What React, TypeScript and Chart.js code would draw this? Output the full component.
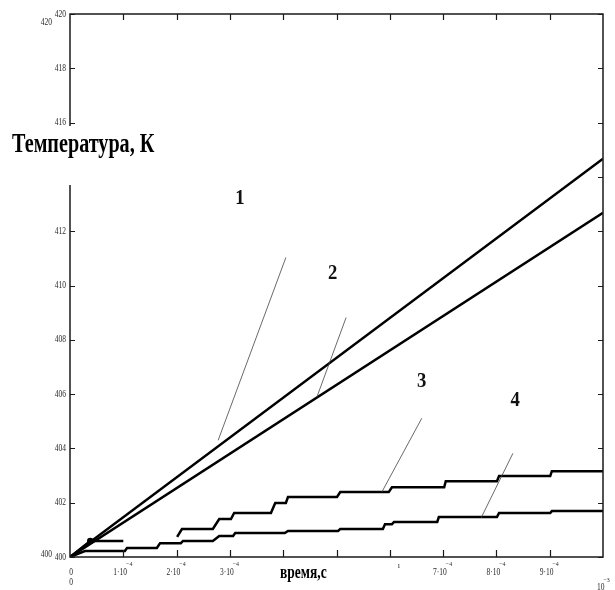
import React, { useEffect, useRef } from "react";
import { Chart, registerables } from "chart.js";

Chart.register(...registerables);

// time axis in units of 1e-4 s, temperature in K
const TIME_MIN = 0;
const TIME_MAX = 10;
const TEMP_MIN = 400;
const TEMP_MAX = 420;

const timeTickValues = [1, 2, 3, 4, 5, 6, 7, 8, 9];
const tempTickValues = [400, 402, 404, 406, 408, 410, 412, 414, 416, 418, 420];
const tempTickLabels = ["400", "402", "404", "406", "408", "410", "412", "", "416", "418", "420"];
const timeTickLabelValues = [1, 2, 3, 7, 8, 9];
const timeTickLabelMantissa = ["1·10", "2·10", "3·10", "7·10", "8·10", "9·10"];
const timeTickLabelExponent = ["−4", "−4", "−4", "−4", "−4", "−4"];

// curve 1 and 2: straight lines
const line1X = [0, 10];
const line1Y = [400, 414.67];
const line2X = [0, 10];
const line2Y = [400, 412.68];

// curve 3: first short piece, then staircase
const stair3aX = [0, 0.38, 1.0];
const stair3aY = [400, 400.59, 400.59];
const stair3X = [2.01, 2.1, 2.68, 2.8, 3.02, 3.08, 3.77, 3.85, 4.05, 4.09, 5.01, 5.07, 5.98, 6.04, 7.02, 7.05, 8.01, 8.05, 9.01, 9.04, 10.0];
const stair3Y = [400.74, 401.03, 401.03, 401.4, 401.4, 401.62, 401.62, 401.99, 401.99, 402.21, 402.21, 402.39, 402.39, 402.57, 402.57, 402.79, 402.79, 402.98, 402.98, 403.16, 403.16];

// curve 4: staircase
const stair4X = [0, 0.28, 1.03, 1.07, 1.63, 1.69, 2.08, 2.12, 2.68, 2.8, 3.06, 3.1, 4.03, 4.09, 5.03, 5.07, 5.87, 5.91, 6.04, 6.08, 6.89, 6.92, 8.01, 8.05, 9.01, 9.04, 10.0];
const stair4Y = [400, 400.22, 400.22, 400.33, 400.33, 400.51, 400.51, 400.59, 400.59, 400.77, 400.77, 400.88, 400.88, 400.96, 400.96, 401.03, 401.03, 401.21, 401.21, 401.29, 401.29, 401.47, 401.47, 401.62, 401.62, 401.69, 401.69];

// leader lines to curve numbers
const pointerStartX = [4.05, 5.18, 6.6, 8.31];
const pointerStartY = [411.03, 408.82, 405.11, 403.82];
const pointerEndX = [2.78, 4.63, 5.85, 7.71];
const pointerEndY = [404.3, 405.88, 402.39, 401.43];

const curveNames = ["1", "2", "3", "4"];
const curveNameX = [3.19, 4.93, 6.6, 8.35];
const curveNameY = [413.2, 410.44, 406.47, 405.77];

const yTitle = "Температура, К";
const xTitle = "время,с";

const pts = (xs: number[], ys: number[]) => xs.map((x, i) => ({ x, y: ys[i] }));

function drawScaled(
  ctx: CanvasRenderingContext2D,
  text: string,
  x: number,
  y: number,
  font: string,
  align: "left" | "right" | "center",
  sx: number,
  baseline: CanvasTextBaseline = "middle"
) {
  ctx.save();
  ctx.font = font;
  ctx.textBaseline = baseline;
  ctx.textAlign = "left";
  const w = ctx.measureText(text).width * sx;
  let x0 = x;
  if (align === "right") x0 = x - w;
  else if (align === "center") x0 = x - w / 2;
  ctx.translate(x0, y);
  ctx.scale(sx, 1);
  ctx.fillText(text, 0, 0);
  ctx.restore();
  return w;
}

const framePlugin = {
  id: "mathcadFrame",
  afterDatasetsDraw(chart: any) {
    const ctx: CanvasRenderingContext2D = chart.ctx;
    const xs = chart.scales.x;
    const ys = chart.scales.y;
    const { left, right, top, bottom } = chart.chartArea;
    ctx.save();
    // frame
    ctx.strokeStyle = "#1a1a1a";
    ctx.lineWidth = 1.5;
    ctx.strokeRect(left, top, right - left, bottom - top);
    // ticks
    ctx.lineWidth = 1.2;
    ctx.beginPath();
    timeTickValues.forEach((v) => {
      const px = Math.round(xs.getPixelForValue(v)) + 0.5;
      ctx.moveTo(px, bottom);
      ctx.lineTo(px, bottom - 7);
      ctx.moveTo(px, top);
      ctx.lineTo(px, top + 6);
    });
    tempTickValues.forEach((v) => {
      const py = Math.round(ys.getPixelForValue(v)) + 0.5;
      ctx.moveTo(left, py);
      ctx.lineTo(left + 5, py);
      ctx.moveTo(right, py);
      ctx.lineTo(right - 5, py);
    });
    ctx.stroke();

    // curve number leader lines
    ctx.strokeStyle = "#444";
    ctx.lineWidth = 0.8;
    ctx.beginPath();
    pointerStartX.forEach((_, i) => {
      ctx.moveTo(xs.getPixelForValue(pointerStartX[i]), ys.getPixelForValue(pointerStartY[i]));
      ctx.lineTo(xs.getPixelForValue(pointerEndX[i]), ys.getPixelForValue(pointerEndY[i]));
    });
    ctx.stroke();

    ctx.fillStyle = "#111";
    // curve numbers
    curveNames.forEach((n, i) => {
      drawScaled(ctx, n, xs.getPixelForValue(curveNameX[i]), ys.getPixelForValue(curveNameY[i]), "bold 22px 'Liberation Serif'", "center", 0.85);
    });

    // y tick labels
    const tickFont = "10px 'Liberation Serif'";
    const supFont = "7px 'Liberation Serif'";
    ctx.fillStyle = "#2a2a2a";
    tempTickValues.forEach((v, i) => {
      const lbl = tempTickLabels[i];
      if (!lbl) return;
      drawScaled(ctx, lbl, left - 4, ys.getPixelForValue(v), tickFont, "right", 0.75);
    });
    // duplicated labels of Mathcad limits
    drawScaled(ctx, String(TEMP_MAX), left - 18, ys.getPixelForValue(TEMP_MAX) + 8, tickFont, "right", 0.75);
    drawScaled(ctx, String(TEMP_MIN), left - 18, ys.getPixelForValue(TEMP_MIN) - 3, tickFont, "right", 0.75);

    // x tick labels
    drawScaled(ctx, "0", xs.getPixelForValue(TIME_MIN) + 1, bottom + 15, tickFont, "center", 0.75);
    drawScaled(ctx, "0", xs.getPixelForValue(TIME_MIN) + 1, bottom + 25, tickFont, "center", 0.75);
    timeTickLabelValues.forEach((v, i) => {
      const cx = xs.getPixelForValue(v);
      const w = drawScaled(ctx, timeTickLabelMantissa[i], cx - 10, bottom + 15, tickFont, "left", 0.75);
      drawScaled(ctx, timeTickLabelExponent[i], cx - 10 + w - 1, bottom + 7, supFont, "left", 0.85);
    });
    drawScaled(ctx, "ı", xs.getPixelForValue(6) + 9, bottom + 9, "8px 'Liberation Serif'", "center", 1);
    // exponent of time axis
    const w10 = drawScaled(ctx, "10", right - 6, bottom + 30, tickFont, "left", 0.75);
    drawScaled(ctx, "−3", right - 6 + w10 - 1, bottom + 23, supFont, "left", 0.85);

    // axis titles
    ctx.fillStyle = "#fff";
    ctx.fillRect(8, 126, 140, 59);
    ctx.fillStyle = "#000";
    drawScaled(ctx, yTitle, 12, 152, "bold 28px 'Liberation Serif'", "left", 0.72, "alphabetic");
    drawScaled(ctx, xTitle, 280, bottom + 21, "bold 18px 'Liberation Serif'", "left", 0.75, "alphabetic");
    ctx.restore();
  },
};

export default function App() {
  const canvasRef = useRef<HTMLCanvasElement | null>(null);

  useEffect(() => {
    const canvas = canvasRef.current;
    if (!canvas) return;
    const mk = (data: { x: number; y: number }[], width = 2.5, radius: number | number[] = 0) => ({
      data,
      borderColor: "#000",
      backgroundColor: "#000",
      borderWidth: width,
      pointRadius: radius,
      pointHoverRadius: 0,
      tension: 0,
      fill: false,
    });
    const chart = new Chart(canvas, {
      type: "line",
      data: {
        datasets: [
          mk(pts(line1X, line1Y)),
          mk(pts(line2X, line2Y)),
          mk(pts(stair3aX, stair3aY), 2.5, [0, 2, 0]),
          mk(pts(stair3X, stair3Y)),
          mk(pts(stair4X, stair4Y)),
        ],
      },
      options: {
        animation: false,
        responsive: false,
        maintainAspectRatio: false,
        layout: { padding: { left: 70, right: 12, top: 14, bottom: 33 } },
        plugins: { legend: { display: false }, tooltip: { enabled: false } },
        scales: {
          x: { type: "linear", min: TIME_MIN, max: TIME_MAX, display: false },
          y: { type: "linear", min: TEMP_MIN, max: TEMP_MAX, display: false },
        },
      },
      plugins: [framePlugin],
    });
    return () => chart.destroy();
  }, []);

  return (
    <div style={{ position: "fixed", left: 0, top: 0, width: 615, height: 590, background: "#fff" }}>
      <canvas ref={canvasRef} width={615} height={590} style={{ display: "block" }} />
    </div>
  );
}
